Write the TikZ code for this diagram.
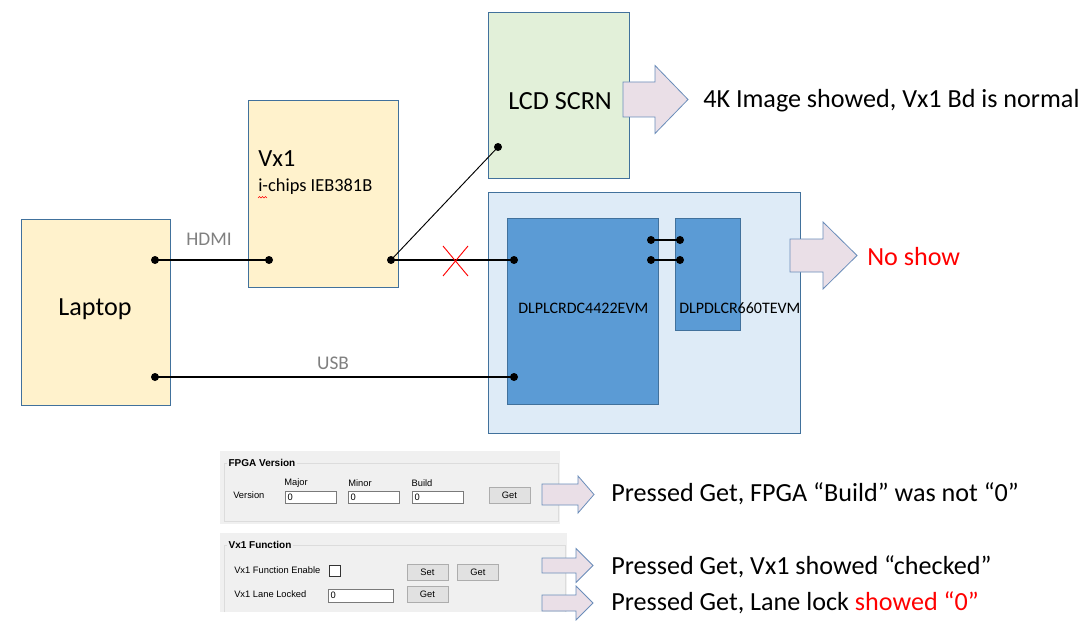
\documentclass[tikz,border=0pt]{standalone}
\usepackage{fontspec}
\setmainfont{Carlito}
\newfontfamily\uifont{Liberation Sans}
\usetikzlibrary{positioning}
\definecolor{boxline}{HTML}{41719C}
\definecolor{yellowfill}{HTML}{FFF2CC}
\definecolor{greenfill}{HTML}{E2F0D9}
\definecolor{boardfill}{HTML}{DEEBF7}
\definecolor{chipfill}{HTML}{5B9BD5}
\definecolor{arrowfill}{HTML}{EADFE7}
\definecolor{arrowline}{HTML}{6A8DBA}
\definecolor{labelgray}{HTML}{808080}
\definecolor{panelgray}{HTML}{F0F0F0}
\definecolor{groupline}{HTML}{DCDCDC}
\definecolor{btnfill}{HTML}{E1E1E1}
\definecolor{btnline}{HTML}{ADADAD}
\definecolor{editline}{HTML}{7A7A7A}

% block arrow: left x, centre y, shaft half height, head x, head half height, tip x
\newcommand{\blkarrow}[6]{%
  \draw[blk] (#1,#2-#3) -- (#4,#2-#3) -- (#4,#2-#5) -- (#6,#2)
    -- (#4,#2+#5) -- (#4,#2+#3) -- (#1,#2+#3) -- cycle;}

\begin{document}
\begin{tikzpicture}[x=0.75pt,y=-0.75pt,
    boxsize/.style 2 args={minimum width=#1*0.75pt, minimum height=#2*0.75pt},
    box/.style={rectangle, draw=boxline, line width=0.75pt, inner sep=0pt},
    dot/.style={circle, fill=black, inner sep=0pt, minimum size=6pt},
    wire/.style={draw=black, line width=0.9pt},
    blk/.style={fill=arrowfill, draw=arrowline, line width=0.6pt},
    big/.style={font=\fontsize{19.6}{23}\selectfont, inner sep=0pt},
    chiplabel/.style={font=\fontsize{12}{14}\selectfont, inner sep=0pt},
    portlabel/.style={font=\fontsize{14.5}{17}\selectfont, text=labelgray, inner sep=0pt},
    uitext/.style={font=\uifont\fontsize{7}{8}\selectfont, inner sep=0pt},
    uititle/.style={font=\uifont\bfseries\fontsize{7.5}{9}\selectfont, inner sep=1pt, fill=panelgray},
    button/.style={rectangle, draw=btnline, fill=btnfill, inner sep=0pt, font=\uifont\fontsize{7}{8}\selectfont},
    editbox/.style={rectangle, draw=editline, fill=white, inner sep=0pt}
  ]
  \useasboundingbox (0,0) rectangle (1089,631);
  \fill[white] (0,0) rectangle (1089,631);

  % boxes
  \node[box, fill=yellowfill, boxsize={149}{185}] (laptop) at (95.5,312.5) {};
  \node[box, fill=yellowfill, boxsize={150}{186}] (vx) at (323,194) {};
  \node[box, fill=greenfill, boxsize={141}{166}] (lcd) at (558.5,96) {};
  \node[box, fill=boardfill, boxsize={312}{240}] (board) at (644,313) {};
  \node[box, fill=chipfill, boxsize={151}{185}] (dlpc) at (582.5,311.5) {};
  \node[box, fill=chipfill, boxsize={65}{111}] (dmd) at (707.5,274.5) {};

  % box labels
  \node[big, anchor=base] (laptoptxt) at (95,315) {Laptop};
  \node[big, font=\fontsize{18.5}{22}\selectfont, anchor=base west] (vxtxt) at (258,167) {Vx1};
  \node[anchor=base west, inner sep=0pt, font=\fontsize{13.8}{17}\selectfont] (vxsub) at (258,192) {i-chips IEB381B};
  \draw[red, line width=0.4pt] (258,198) -- (259.5,196.5) -- (261,198) -- (262.5,196.5)
    -- (264,198) -- (265.5,196.5) -- (267,198);
  \node[big, anchor=base west] (lcdtxt) at (508,110) {LCD SCRN};
  \node[chiplabel, anchor=base west] (dlpctxt) at (518,313) {DLPLCRDC4422EVM};
  \node[chiplabel, anchor=base west] (dmdtxt) at (679,313) {DLPDLCR660TEVM};
  \node[portlabel, anchor=base] (hdmitxt) at (209,246) {HDMI};
  \node[portlabel, anchor=base] (usbtxt) at (333,369) {USB};

  % ports
  \node[dot] (lpH) at (155,260) {};
  \node[dot] (lpU) at (155,377) {};
  \node[dot] (vxL) at (269,260) {};
  \node[dot] (vxR) at (391,260) {};
  \node[dot] (lcdP) at (498,147) {};
  \node[dot] (dlpcH) at (514,260) {};
  \node[dot] (dlpcU) at (514,377) {};
  \node[dot] (dlpcA) at (651,240) {};
  \node[dot] (dlpcB) at (651,260) {};
  \node[dot] (dmdA) at (680,240) {};
  \node[dot] (dmdB) at (680,260) {};

  % connectors
  \draw[wire] (lpH.center) -- (vxL.center);
  \draw[wire, line width=0.7pt] (vxR.center) -- (lcdP.center);
  \draw[wire] (vxR.center) -- (dlpcH.center);
  \draw[wire] (lpU.center) -- (dlpcU.center);
  \draw[wire] (dlpcA.center) -- (dmdA.center);
  \draw[wire] (dlpcB.center) -- (dmdB.center);

  % broken link
  \coordinate (cross) at (455.5,261);
  \draw[red, line width=0.7pt] ([shift={(-12.5,-15)}]cross) -- ([shift={(12.5,15)}]cross);
  \draw[red, line width=0.7pt] ([shift={(12.5,-15)}]cross) -- ([shift={(-12.5,15)}]cross);

  % results
  \blkarrow{623}{99.5}{17.5}{655}{34}{688}
  \node[big, anchor=base west] (lcdres) at (703,108) {4K Image showed, Vx1 Bd is normal};
  \blkarrow{790}{255.5}{16.5}{823}{33.5}{857}
  \node[big, anchor=base west, text=red] (boardres) at (867,266) {No show};

  % FPGA version panel
  \fill[panelgray] (220,451) rectangle (560,524);
  \draw[groupline] (224,463) rectangle (558,521);
  \node[uititle, anchor=west] (fpgatitle) at (227,463) {FPGA Version};
  \node[uitext, anchor=west] (vertxt) at (233,495) {Version};
  \node[uitext] (majtxt) at (296,483) {Major};
  \node[uitext] (mintxt) at (360,483) {Minor};
  \node[uitext] (bldtxt) at (422,483) {Build};
  \node[editbox, boxsize={51}{12}] (majbox) at (310.5,497) {};
  \node[editbox, boxsize={51}{12}] (minbox) at (373.5,497) {};
  \node[editbox, boxsize={51}{12}] (bldbox) at (437.5,497) {};
  \node[uitext, anchor=west] at ([xshift=2pt]majbox.west) {0};
  \node[uitext, anchor=west] at ([xshift=2pt]minbox.west) {0};
  \node[uitext, anchor=west] at ([xshift=2pt]bldbox.west) {0};
  \node[button, boxsize={41}{16}] (fpgaget) at (509.5,495) {Get};
  \blkarrow{542}{494.5}{10.5}{578}{18.5}{594}
  \node[big, anchor=base west] (fpgares) at (611,501) {Pressed Get, FPGA “Build” was not “0”};

  % Vx1 function panel
  \fill[panelgray] (220,533) rectangle (567,612);
  \draw[groupline] (224,612) -- (224,545) -- (565,545) -- (565,612);
  \node[uititle, anchor=west] (vxtitle) at (227,545) {Vx1 Function};
  \node[uitext, anchor=west] (entxt) at (234,570) {Vx1 Function Enable};
  \node[editbox, draw=black!80, boxsize={11}{11}] (enchk) at (334.5,571) {};
  \node[button, boxsize={41}{16}] (setbtn) at (427.5,572) {Set};
  \node[button, boxsize={41}{16}] (enget) at (478,572) {Get};
  \node[uitext, anchor=west] (locktxt) at (234,594) {Vx1 Lane Locked};
  \node[editbox, boxsize={65}{13}] (lockbox) at (360.5,595.5) {};
  \node[uitext, anchor=west] at ([xshift=2pt]lockbox.west) {0};
  \node[button, boxsize={41}{16}] (lockget) at (427.5,594) {Get};
  \blkarrow{542}{565.5}{7.5}{576}{17}{593}
  \node[big, anchor=base west] (enres) at (611,574) {Pressed Get, Vx1 showed “checked”};
  \blkarrow{542}{603}{8}{576}{17}{593}
  \node[big, anchor=base west] (lockres) at (611,610) {Pressed Get, Lane lock \textcolor{red}{showed “0”}};
\end{tikzpicture}
\end{document}
